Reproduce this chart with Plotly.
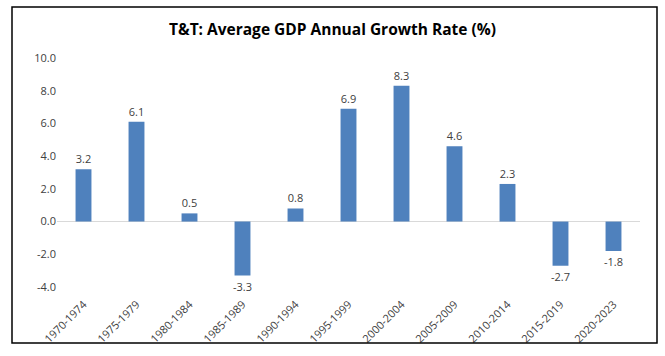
import plotly.graph_objects as go

periods = ["1970-1974", "1975-1979", "1980-1984", "1985-1989", "1990-1994", "1995-1999",
           "2000-2004", "2005-2009", "2010-2014", "2015-2019", "2020-2023"]
growth = [3.2, 6.1, 0.5, -3.3, 0.8, 6.9, 8.3, 4.6, 2.3, -2.7, -1.8]
y_ticks = [-4, -2, 0, 2, 4, 6, 8, 10]

W, H = 665, 356
ml, mr, mt, mb = 57, 25, 58, 69
pw, ph = W - ml - mr, H - mt - mb

def px_x(x):
    return (x - ml) / pw

def px_y(y):
    return (H - mb - y) / ph

fig = go.Figure(go.Bar(
    x=periods, y=growth, width=0.3,
    marker=dict(color="#4F81BD", line=dict(width=0)),
    text=[f"{v:.1f}" for v in growth], textposition="outside",
    constraintext="none",
    textfont=dict(size=11, color="#404040", family="Open Sans"),
    cliponaxis=False,
))

fig.update_layout(
    width=W, height=H,
    margin=dict(l=ml, r=mr, t=mt, b=mb, autoexpand=False),
    paper_bgcolor="white", plot_bgcolor="white",
    font=dict(family="Open Sans", size=11, color="#404040"),
    title=dict(text="<b>T&T: Average GDP Annual Growth Rate (%)</b>",
               x=0.5, xanchor="center", y=1 - 30 / H, yanchor="middle",
               font=dict(size=15.5, color="#000000", family="Open Sans")),
    showlegend=False,
    bargap=0.7,
    shapes=[dict(type="rect", xref="paper", yref="paper",
                 x0=px_x(12), x1=px_x(657), y0=px_y(343), y1=px_y(7),
                 line=dict(color="black", width=1.5), fillcolor="rgba(0,0,0,0)")],
)
fig.update_xaxes(showgrid=False, showline=False, tickangle=-45, ticks="",
                 automargin=False, ticklabelstandoff=8,
                 tickfont=dict(size=11, color="#404040"))
fig.update_yaxes(range=[-4, 10], tickvals=y_ticks, automargin=False,
                 ticktext=[f"{v:.1f}" for v in y_ticks],
                 showgrid=False, zeroline=True, zerolinecolor="#D9D9D9", zerolinewidth=1,
                 showline=False, ticks="", tickfont=dict(size=11, color="#404040"))

fig.write_html("out.html", config={"displayModeBar": False},
               post_script="document.body.style.margin='0';")
